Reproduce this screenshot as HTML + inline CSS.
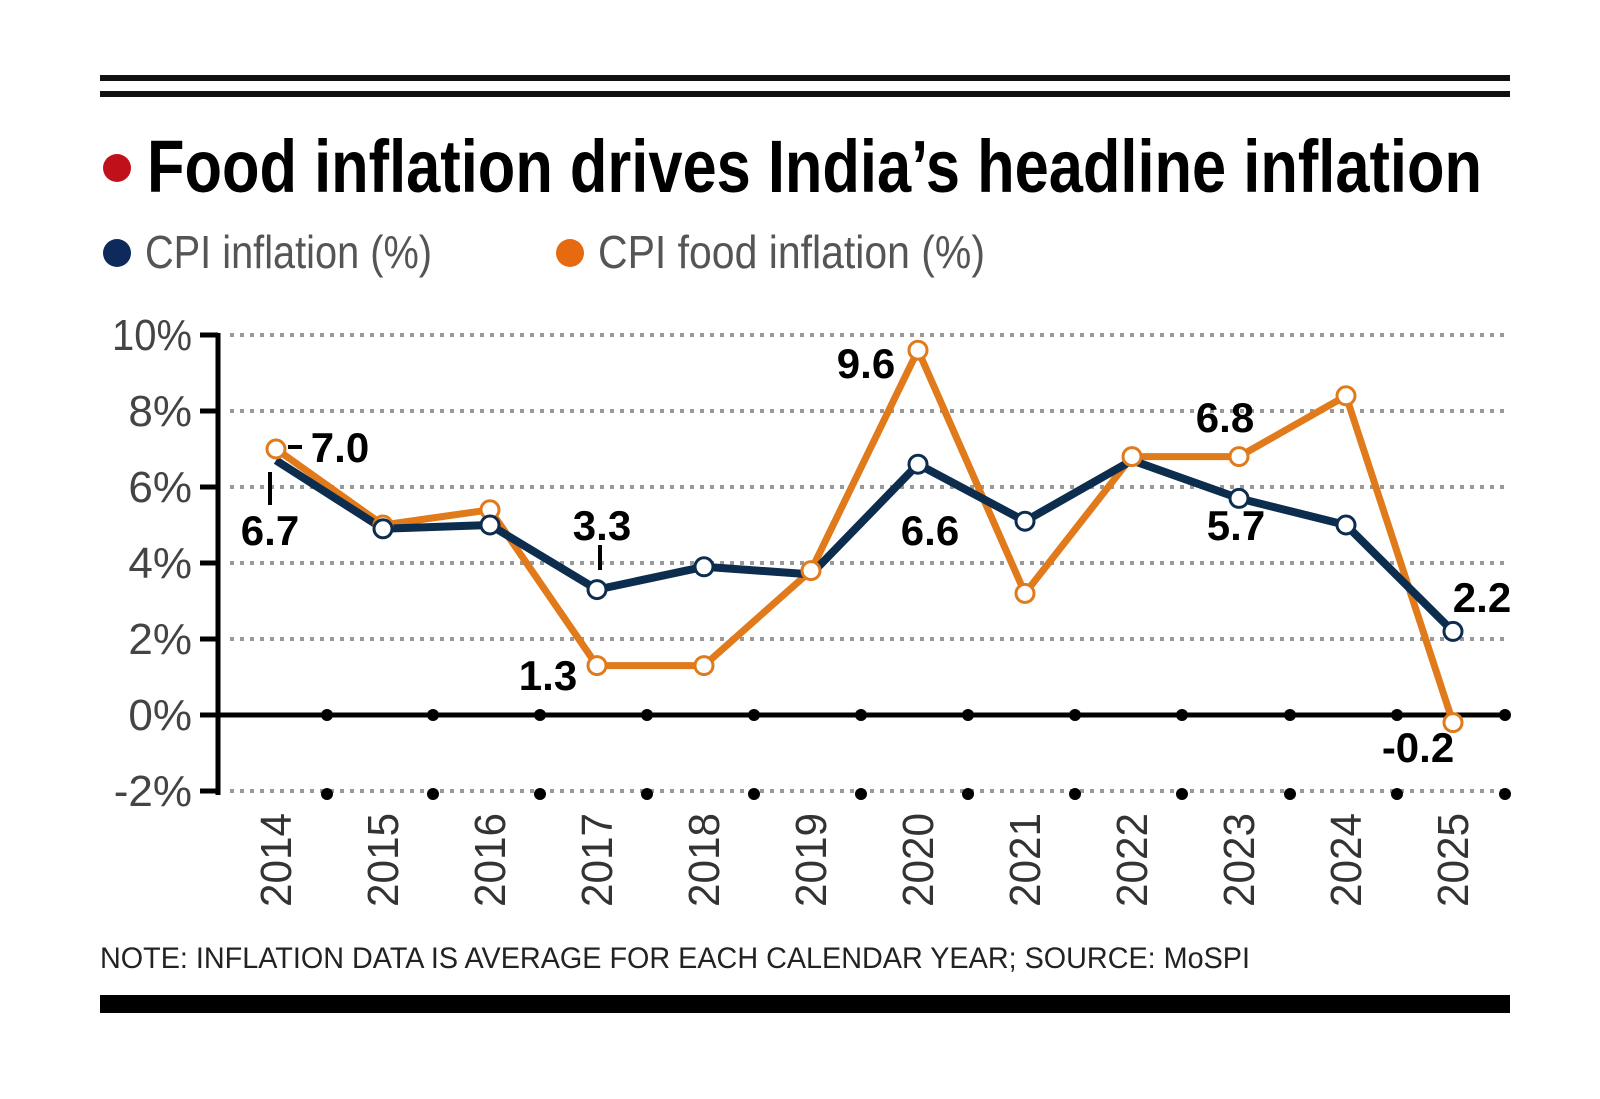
<!DOCTYPE html>
<html><head><meta charset="utf-8"><style>html,body{margin:0;padding:0;background:#fff}svg{display:block}</style></head>
<body>
<svg width="1600" height="1099" viewBox="0 0 1600 1099" xmlns="http://www.w3.org/2000/svg" font-family="Liberation Sans, sans-serif">
<rect width="1600" height="1099" fill="#fff"/>
<line x1="100" y1="78" x2="1510" y2="78" stroke="#111" stroke-width="6"/>
<line x1="100" y1="94" x2="1510" y2="94" stroke="#111" stroke-width="6"/>
<circle cx="117" cy="168" r="14" fill="#c0101a"/>
<text x="147" y="192" font-size="74" font-weight="bold" fill="#000" textLength="1335" lengthAdjust="spacingAndGlyphs">Food inflation drives India’s headline inflation</text>
<circle cx="117" cy="253" r="14" fill="#0d2a5a"/>
<text x="145" y="268" font-size="46" fill="#555" textLength="287" lengthAdjust="spacingAndGlyphs">CPI inflation (%)</text>
<circle cx="570" cy="253" r="14" fill="#e86a10"/>
<text x="598" y="268" font-size="46" fill="#555" textLength="387" lengthAdjust="spacingAndGlyphs">CPI food inflation (%)</text>
<g stroke="#999" stroke-width="4" stroke-dasharray="4 6">
<line x1="230" y1="335" x2="1508" y2="335"/><line x1="230" y1="411" x2="1508" y2="411"/>
<line x1="230" y1="487" x2="1508" y2="487"/><line x1="230" y1="563" x2="1508" y2="563"/>
<line x1="230" y1="639" x2="1508" y2="639"/><line x1="230" y1="791" x2="1508" y2="791"/>
</g>
<g stroke="#000" stroke-width="5">
<line x1="218" y1="333" x2="218" y2="795"/>
<line x1="200" y1="335" x2="218" y2="335"/><line x1="200" y1="411" x2="218" y2="411"/>
<line x1="200" y1="487" x2="218" y2="487"/><line x1="200" y1="563" x2="218" y2="563"/>
<line x1="200" y1="639" x2="218" y2="639"/><line x1="200" y1="715" x2="218" y2="715"/>
<line x1="200" y1="791" x2="218" y2="791"/>
<line x1="200" y1="715" x2="1508" y2="715"/>
</g>
<g fill="#000">
<circle cx="327" cy="715" r="6"/><circle cx="433" cy="715" r="6"/><circle cx="540" cy="715" r="6"/><circle cx="647" cy="715" r="6"/><circle cx="754" cy="715" r="6"/><circle cx="861" cy="715" r="6"/><circle cx="968" cy="715" r="6"/><circle cx="1075" cy="715" r="6"/><circle cx="1182" cy="715" r="6"/><circle cx="1290" cy="715" r="6"/><circle cx="1397" cy="715" r="6"/><circle cx="1505" cy="715" r="6"/>
<circle cx="327" cy="794" r="6"/><circle cx="433" cy="794" r="6"/><circle cx="540" cy="794" r="6"/><circle cx="647" cy="794" r="6"/><circle cx="754" cy="794" r="6"/><circle cx="861" cy="794" r="6"/><circle cx="968" cy="794" r="6"/><circle cx="1075" cy="794" r="6"/><circle cx="1182" cy="794" r="6"/><circle cx="1290" cy="794" r="6"/><circle cx="1397" cy="794" r="6"/><circle cx="1505" cy="794" r="6"/>
</g>
<g font-size="44" fill="#444" text-anchor="end">
<text x="192" y="350" textLength="80" lengthAdjust="spacingAndGlyphs">10%</text>
<text x="192" y="426">8%</text><text x="192" y="502">6%</text><text x="192" y="578">4%</text>
<text x="192" y="654">2%</text><text x="192" y="730">0%</text><text x="192" y="806">-2%</text>
</g>
<g font-size="44" fill="#333">
<text transform="translate(291,907) rotate(-90)" textLength="94" lengthAdjust="spacingAndGlyphs">2014</text>
<text transform="translate(398,907) rotate(-90)" textLength="94" lengthAdjust="spacingAndGlyphs">2015</text>
<text transform="translate(505,907) rotate(-90)" textLength="94" lengthAdjust="spacingAndGlyphs">2016</text>
<text transform="translate(612,907) rotate(-90)" textLength="94" lengthAdjust="spacingAndGlyphs">2017</text>
<text transform="translate(719,907) rotate(-90)" textLength="94" lengthAdjust="spacingAndGlyphs">2018</text>
<text transform="translate(826,907) rotate(-90)" textLength="94" lengthAdjust="spacingAndGlyphs">2019</text>
<text transform="translate(933,907) rotate(-90)" textLength="94" lengthAdjust="spacingAndGlyphs">2020</text>
<text transform="translate(1040,907) rotate(-90)" textLength="94" lengthAdjust="spacingAndGlyphs">2021</text>
<text transform="translate(1147,907) rotate(-90)" textLength="94" lengthAdjust="spacingAndGlyphs">2022</text>
<text transform="translate(1254,907) rotate(-90)" textLength="94" lengthAdjust="spacingAndGlyphs">2023</text>
<text transform="translate(1361,907) rotate(-90)" textLength="94" lengthAdjust="spacingAndGlyphs">2024</text>
<text transform="translate(1468,907) rotate(-90)" textLength="94" lengthAdjust="spacingAndGlyphs">2025</text>
</g>
<polyline fill="none" stroke="#e07a1a" stroke-width="7" stroke-linejoin="round" points="276,449 383,525 490,509.8 597,665.6 704,665.6 811,570.6 918,350.2 1025,593.4 1132,456.6 1239,456.6 1346,395.8 1453,722.6"/>
<polyline fill="none" stroke="#0d2d4f" stroke-width="8" stroke-linejoin="round" points="276,460.4 383,528.8 490,525 597,589.6 704,566.8 811,574.4 918,464.2 1025,521.2 1132,460.4 1239,498.4 1346,525 1453,631.4"/>
<g fill="#fff" stroke="#e07a1a" stroke-width="3">
<circle cx="276" cy="449" r="9"/><circle cx="383" cy="525" r="9"/><circle cx="490" cy="509.8" r="9"/><circle cx="597" cy="665.6" r="9"/><circle cx="704" cy="665.6" r="9"/><circle cx="811" cy="570.6" r="9"/><circle cx="918" cy="350.2" r="9"/><circle cx="1025" cy="593.4" r="9"/><circle cx="1132" cy="456.6" r="9"/><circle cx="1239" cy="456.6" r="9"/><circle cx="1346" cy="395.8" r="9"/><circle cx="1453" cy="722.6" r="9"/>
</g>
<g fill="#fff" stroke="#0d2d4f" stroke-width="3">
<circle cx="383" cy="528.8" r="9"/><circle cx="490" cy="525" r="9"/><circle cx="597" cy="589.6" r="9"/><circle cx="704" cy="566.8" r="9"/><circle cx="918" cy="464.2" r="9"/><circle cx="1025" cy="521.2" r="9"/><circle cx="1239" cy="498.4" r="9"/><circle cx="1346" cy="525" r="9"/><circle cx="1453" cy="631.4" r="9"/>
</g>
<g stroke="#000" stroke-width="4">
<line x1="288" y1="447" x2="302" y2="447"/>
<line x1="270" y1="472" x2="270" y2="505"/>
<line x1="600" y1="545" x2="600" y2="570"/>
</g>
<g font-size="42" font-weight="bold" fill="#000" text-anchor="middle">
<text x="340" y="462">7.0</text>
<text x="270" y="545">6.7</text>
<text x="602" y="540">3.3</text>
<text x="548" y="690">1.3</text>
<text x="866" y="378">9.6</text>
<text x="930" y="545">6.6</text>
<text x="1225" y="432">6.8</text>
<text x="1236" y="540">5.7</text>
<text x="1482" y="612">2.2</text>
<text x="1418" y="762">-0.2</text>
</g>
<text x="100" y="968" font-size="30" fill="#222" textLength="1150" lengthAdjust="spacingAndGlyphs">NOTE: INFLATION DATA IS AVERAGE FOR EACH CALENDAR YEAR; SOURCE: MoSPI</text>
<rect x="100" y="995" width="1410" height="18" fill="#000"/>
</svg>
</body></html>
